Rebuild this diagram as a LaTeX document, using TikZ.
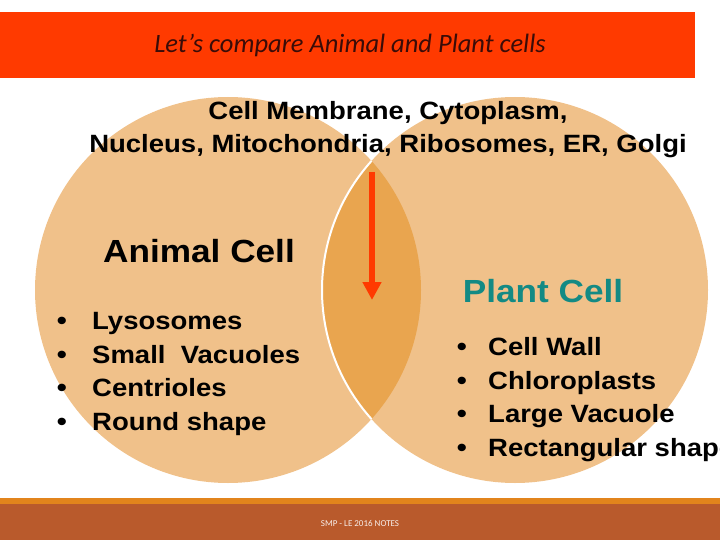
\documentclass[tikz,border=0pt]{standalone}
\usepackage{fontspec}
\setmainfont{Liberation Sans}[FakeStretch=1.1]
\newfontfamily\slidefont{Carlito}
\usetikzlibrary{arrows.meta}
\definecolor{slideRed}{HTML}{FF3A00}
\definecolor{cellTan}{HTML}{F0C18A}
\definecolor{cellOverlap}{HTML}{E9A54F}
\definecolor{plantTeal}{HTML}{138A84}
\definecolor{footStripe}{HTML}{E2841C}
\definecolor{footBrown}{HTML}{B95A2C}
\definecolor{titleInk}{HTML}{3A0C08}
\tikzset{
  heading/.style={anchor=base, inner sep=0pt, font=\fontsize{32}{36}\selectfont\bfseries},
  shared/.style={anchor=base, inner sep=0pt, font=\fontsize{25}{30}\selectfont\bfseries},
  item/.style={anchor=base west, inner sep=0pt, font=\fontsize{25}{30}\selectfont\bfseries},
  dot/.style={anchor=base, inner sep=0pt, font=\fontsize{26}{30}\selectfont\bfseries},
  arrow/.style={-{Triangle[width=18pt,length=18pt]}, line width=5.5pt, draw=slideRed}
}

\begin{document}
\begin{tikzpicture}[x=1pt,y=-1pt]
  \useasboundingbox (0,0) rectangle (720,540);
  \clip (0,0) rectangle (720,540);

  % title bar
  \fill[slideRed] (0,12) rectangle (695,78);
  \node[anchor=base, inner sep=0pt, text=titleInk, font=\slidefont\itshape\fontsize{26.5}{30}\selectfont] (title) at (350,53) {Let’s compare Animal and Plant cells};

  % the two cells
  \fill[cellTan] (228,290) circle[radius=193pt];
  \fill[cellTan] (515,290) circle[radius=193pt];
  \begin{scope}
    \clip (228,290) circle[radius=193pt];
    \fill[cellOverlap] (515,290) circle[radius=193pt];
    \draw[white, line width=2pt] (515,290) circle[radius=193pt];
  \end{scope}

  % footer
  \fill[footStripe] (0,498) rectangle (720,504);
  \fill[footBrown] (0,504) rectangle (720,540);
  \node[anchor=base, inner sep=0pt, text=white!90!footBrown, font=\slidefont\fontsize{9}{10}\selectfont] (notes) at (360,526) {SMP - LE 2016 NOTES};

  % shared parts
  \node[shared] (sharedA) at (388,120) {Cell Membrane, Cytoplasm,};
  \node[shared] (sharedB) at (388,153) {Nucleus, Mitochondria, Ribosomes, ER, Golgi};

  \coordinate (arrowTop) at (372,172);
  \coordinate (arrowTip) at (372,300);
  \draw[arrow] (arrowTop) -- (arrowTip);

  % animal cell
  \node[heading] (animal) at (199,262) {Animal Cell};
  \node[dot] (dotA1) at (62,329) {•};
  \node[item] (lyso) at (92,329) {Lysosomes};
  \node[dot] (dotA2) at (62,363) {•};
  \node[item] (smallvac) at (92,363) {Small\ \ Vacuoles};
  \node[dot] (dotA3) at (62,396) {•};
  \node[item] (centri) at (92,396) {Centrioles};
  \node[dot] (dotA4) at (62,430) {•};
  \node[item] (round) at (92,430) {Round shape};

  % plant cell
  \node[heading, text=plantTeal] (plant) at (543,302) {Plant Cell};
  \node[dot] (dotP1) at (462,355) {•};
  \node[item] (wall) at (488,355) {Cell Wall};
  \node[dot] (dotP2) at (462,389) {•};
  \node[item] (chloro) at (488,389) {Chloroplasts};
  \node[dot] (dotP3) at (462,422) {•};
  \node[item] (largevac) at (488,422) {Large Vacuole};
  \node[dot] (dotP4) at (462,456) {•};
  \node[item] (rect) at (488,456) {Rectangular shape};
\end{tikzpicture}
\end{document}
